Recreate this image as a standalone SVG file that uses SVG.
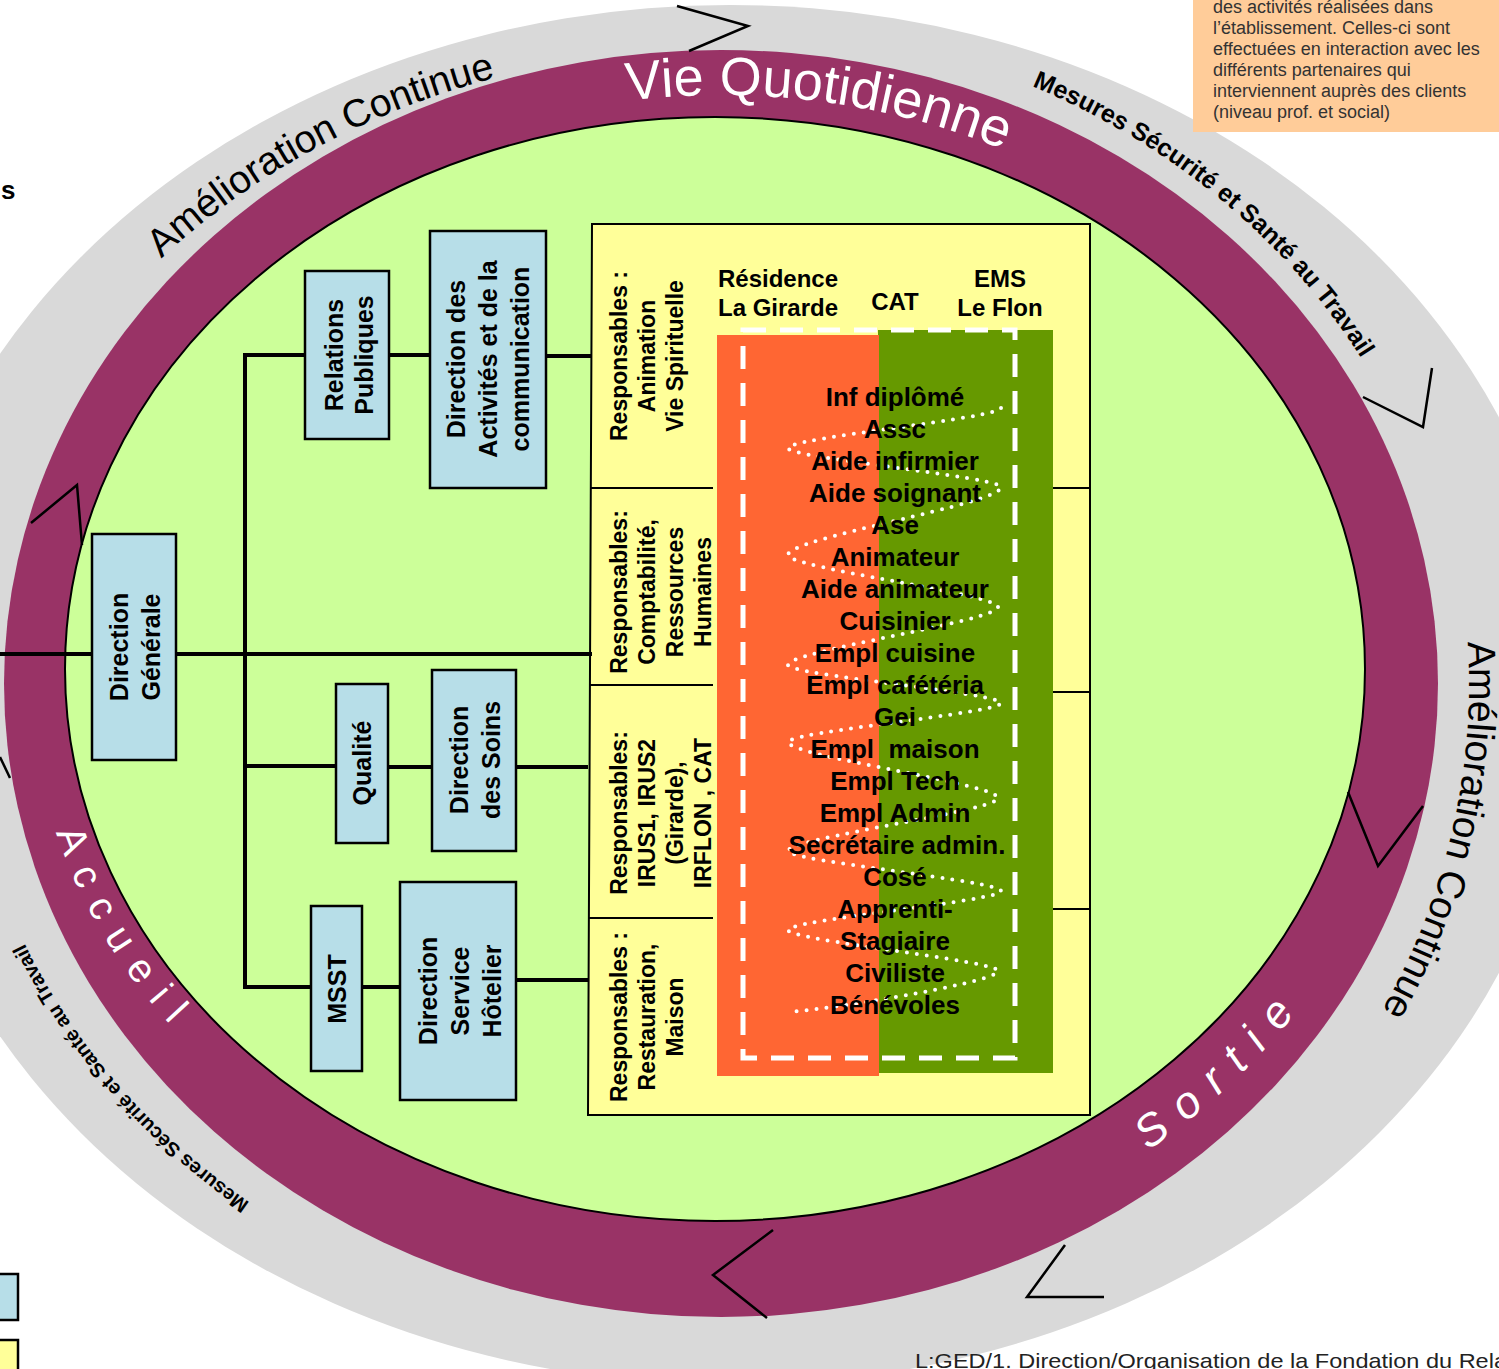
<svg xmlns="http://www.w3.org/2000/svg" width="1499" height="1369" viewBox="0 0 1499 1369">
<defs>
<style>
.box{fill:#B7DEE8;stroke:#000;stroke-width:2.5}
.bt{font-family:'Liberation Sans',Arial,sans-serif;font-weight:bold;font-size:25px;fill:#000;text-anchor:middle}
.yt{font-family:'Liberation Sans',Arial,sans-serif;font-weight:bold;font-size:23px;fill:#000;text-anchor:middle}
.st{font-family:'Liberation Sans',Arial,sans-serif;font-weight:bold;font-size:26px;fill:#000;text-anchor:middle}
.hd{font-family:'Liberation Sans',Arial,sans-serif;font-weight:bold;font-size:24px;fill:#000;text-anchor:middle}
.conn{stroke:#000;stroke-width:4;fill:none}
.div{stroke:#000;stroke-width:2;fill:none}
.chev{stroke:#000;stroke-width:2.5;fill:none;stroke-linejoin:miter}
.arc{font-family:'Liberation Sans',Arial,sans-serif;fill:#000}
.arcw{font-family:'Liberation Sans',Arial,sans-serif;fill:#fff}
.note{font-family:'Liberation Sans',Arial,sans-serif;font-size:18px;fill:#333}
</style>
<path id="pA" d="M161.4,258.6 A753,635 0 0 1 1297.8,275.3"/>
<path id="pB" d="M627.5,100.7 A672,588.5 0 0 1 1303,389.3"/>
<path id="pC" d="M1032.1,86.2 A736,659 0 0 1 1445.8,797.9"/>
<path id="pD" d="M1467.7,642.1 A748,698 0 0 1 1095,1288"/>
<path id="pE" d="M249.8,1202.4 A757,663 0 0 1 -35.5,706.6"/>
<path id="pF" d="M56.1,832.4 A689,568 0 0 0 601.4,1242.9"/>
<path id="pG" d="M1147.7,1150.3 A690,594 0 0 0 1411,683.5"/>
</defs>
<rect x="0" y="0" width="1499" height="1369" fill="#fff"/>

<g id="ring">
<ellipse cx="730" cy="695" rx="840" ry="690" fill="#D9D9D9"/>
<ellipse cx="721" cy="683.5" rx="717" ry="633.5" fill="#993366"/>
<ellipse cx="715" cy="669" rx="650" ry="552" fill="#CCFF99" stroke="#000" stroke-width="2"/>
<polyline class="chev" points="677,6 748,26 689,51"/>
<polyline class="chev" points="1363,397 1423,427 1432,368"/>
<polyline class="chev" points="1065,1245 1027,1297 1104,1297" stroke-width="3"/>
<line class="chev" x1="0" y1="757" x2="10" y2="778"/>
<polyline class="chev" points="1348,792 1378,866 1423,806"/>
<polyline class="chev" points="773,1230 713,1275 767,1318" stroke-width="4"/>
<polyline class="chev" points="31,523 77,485 82,545"/>
<text class="arc" font-size="39"><textPath href="#pA">Amélioration Continue</textPath></text>
<text class="arcw" font-size="54"><textPath href="#pB">Vie Quotidienne</textPath></text>
<text class="arc" font-size="25" font-weight="bold"><textPath href="#pC">Mesures Sécurité et Santé au Travail</textPath></text>
<text class="arc" font-size="39"><textPath href="#pD">Amélioration Continue</textPath></text>
<text class="arc" font-size="20" font-weight="bold"><textPath href="#pE">Mesures Sécurité et Santé au Travail</textPath></text>
<text class="arcw" font-size="40" letter-spacing="16"><textPath href="#pF">Accueil</textPath></text>
<text class="arcw" font-size="45" font-style="italic" letter-spacing="17"><textPath href="#pG">Sortie</textPath></text>
</g>

<g id="services">
<polygon points="592,224 1090,224 1090,1115 588,1115" fill="#FFFF99" stroke="#000" stroke-width="2"/>
<path class="div" d="M590,488 H713 M590,685 H713 M589,918 H713 M1053,488 H1090 M1053,692 H1090 M1053,909 H1090"/>
<rect x="878" y="330" width="175" height="743" fill="#669900"/>
<rect x="717" y="335" width="162" height="741" fill="#FF6633"/>
<rect x="743" y="330" width="272" height="728" fill="none" stroke="#fff" stroke-width="5" stroke-dasharray="23 14"/>
<path d="M1001,408 C1001,418 788,438 788,448 C788,458 1001,477 1001,487 C1001,504 788,538 788,555 C788,568 998,594 998,607 C998,621 788,651 788,665 C788,675 1001,693 1001,703 C1001,713 788,732 788,742 C788,756 998,784 998,798 C998,811 788,838 788,851 C788,861 1001,881 1001,891 C1001,901 788,920 788,930 C788,940 998,961 998,971 C998,981 860,1005 790,1012" fill="none" stroke="#fff" stroke-width="4" stroke-linecap="round" stroke-dasharray="0 10"/>
<text class="hd" x="778" y="287">Résidence</text>
<text class="hd" x="778" y="316">La Girarde</text>
<text class="hd" x="895" y="310">CAT</text>
<text class="hd" x="1000" y="287">EMS</text>
<text class="hd" x="1000" y="316">Le Flon</text>
<text class="st" x="895" y="406">Inf diplômé</text>
<text class="st" x="895" y="438">Assc</text>
<text class="st" x="895" y="470">Aide infirmier</text>
<text class="st" x="895" y="502">Aide soignant</text>
<text class="st" x="895" y="534">Ase</text>
<text class="st" x="895" y="566">Animateur</text>
<text class="st" x="895" y="598">Aide animateur</text>
<text class="st" x="895" y="630">Cuisinier</text>
<text class="st" x="895" y="662">Empl cuisine</text>
<text class="st" x="895" y="694">Empl cafétéria</text>
<text class="st" x="895" y="726">Gei</text>
<text class="st" x="895" y="758" xml:space="preserve">Empl  maison</text>
<text class="st" x="895" y="790">Empl Tech</text>
<text class="st" x="895" y="822">Empl Admin</text>
<text class="st" x="897" y="854">Secrétaire admin.</text>
<text class="st" x="895" y="886">Cosé</text>
<text class="st" x="895" y="918">Apprenti-</text>
<text class="st" x="895" y="950">Stagiaire</text>
<text class="st" x="895" y="982">Civiliste</text>
<text class="st" x="895" y="1014">Bénévoles</text>
</g>

<g id="resp1"><text class="yt" transform="translate(627,356) rotate(-90)"><tspan x="0" dy="0">Responsables :</tspan><tspan x="0" dy="28">Animation</tspan><tspan x="0" dy="28">Vie Spirituelle</tspan></text></g>
<g id="resp2"><text class="yt" transform="translate(627,592) rotate(-90)"><tspan x="0" dy="0">Responsables:</tspan><tspan x="0" dy="28">Comptabilité,</tspan><tspan x="0" dy="28">Ressources</tspan><tspan x="0" dy="28">Humaines</tspan></text></g>
<g id="resp3"><text class="yt" transform="translate(627,813) rotate(-90)"><tspan x="0" dy="0">Responsables:</tspan><tspan x="0" dy="28">IRUS1, IRUS2</tspan><tspan x="0" dy="28">(Girarde),</tspan><tspan x="0" dy="28">IRFLON , CAT</tspan></text></g>
<g id="resp4"><text class="yt" transform="translate(627,1017) rotate(-90)"><tspan x="0" dy="0">Responsables :</tspan><tspan x="0" dy="28">Restauration,</tspan><tspan x="0" dy="28">Maison</tspan></text></g>

<g id="connectors">
<path class="conn" d="M245,353 V989"/>
<path class="conn" d="M243,355 H305 M389,355 H430 M546,356 H592"/>
<path class="conn" d="M0,654 H92 M176,654 H592"/>
<path class="conn" d="M243,766 H336 M388,767 H432 M516,767 H588"/>
<path class="conn" d="M243,987 H311 M362,987 H400 M516,980 H589"/>
</g>

<g id="dg"><rect class="box" x="92" y="534" width="84" height="226"/>
<text class="bt" transform="translate(128,647) rotate(-90)"><tspan x="0" dy="0">Direction</tspan><tspan x="0" dy="32">Générale</tspan></text></g>
<g id="rp"><rect class="box" x="305" y="271" width="84" height="168"/>
<text class="bt" transform="translate(343,355) rotate(-90)"><tspan x="0" dy="0">Relations</tspan><tspan x="0" dy="30">Publiques</tspan></text></g>
<g id="dac"><rect class="box" x="430" y="231" width="116" height="257"/>
<text class="bt" transform="translate(465,359) rotate(-90)"><tspan x="0" dy="0">Direction des</tspan><tspan x="0" dy="32">Activités et de la</tspan><tspan x="0" dy="32">communication</tspan></text></g>
<g id="qual"><rect class="box" x="336" y="684" width="52" height="159"/>
<text class="bt" transform="translate(371,763) rotate(-90)">Qualité</text></g>
<g id="ds"><rect class="box" x="432" y="670" width="84" height="181"/>
<text class="bt" transform="translate(468,760) rotate(-90)"><tspan x="0" dy="0">Direction</tspan><tspan x="0" dy="32">des Soins</tspan></text></g>
<g id="msst"><rect class="box" x="311" y="906" width="51" height="165"/>
<text class="bt" transform="translate(346,989) rotate(-90)">MSST</text></g>
<g id="dsh"><rect class="box" x="400" y="882" width="116" height="218"/>
<text class="bt" transform="translate(437,991) rotate(-90)"><tspan x="0" dy="0">Direction</tspan><tspan x="0" dy="32">Service</tspan><tspan x="0" dy="32">Hôtelier</tspan></text></g>

<g id="note">
<rect x="1193" y="0" width="306" height="132" fill="#FFCC99"/>
<text class="note"><tspan x="1213" y="13">des activités réalisées dans</tspan><tspan x="1213" y="34">l’établissement. Celles-ci sont</tspan><tspan x="1213" y="55">effectuées en interaction avec les</tspan><tspan x="1213" y="76">différents partenaires qui</tspan><tspan x="1213" y="97">interviennent auprès des clients</tspan><tspan x="1213" y="118">(niveau prof. et social)</tspan></text>
</g>

<g id="misc">
<text x="1" y="199" font-family="'Liberation Sans',Arial,sans-serif" font-weight="bold" font-size="26">s</text>
<rect x="-5" y="1274" width="23" height="46" fill="#B7DEE8" stroke="#000" stroke-width="2.5"/>
<rect x="-5" y="1340" width="23" height="40" fill="#FFFF99" stroke="#000" stroke-width="2.5"/>
<text x="915" y="1368" font-family="'Liberation Sans',Arial,sans-serif" font-size="21" fill="#222" textLength="592" lengthAdjust="spacingAndGlyphs">L:GED/1. Direction/Organisation de la Fondation du Rela</text>
</g>
</svg>
